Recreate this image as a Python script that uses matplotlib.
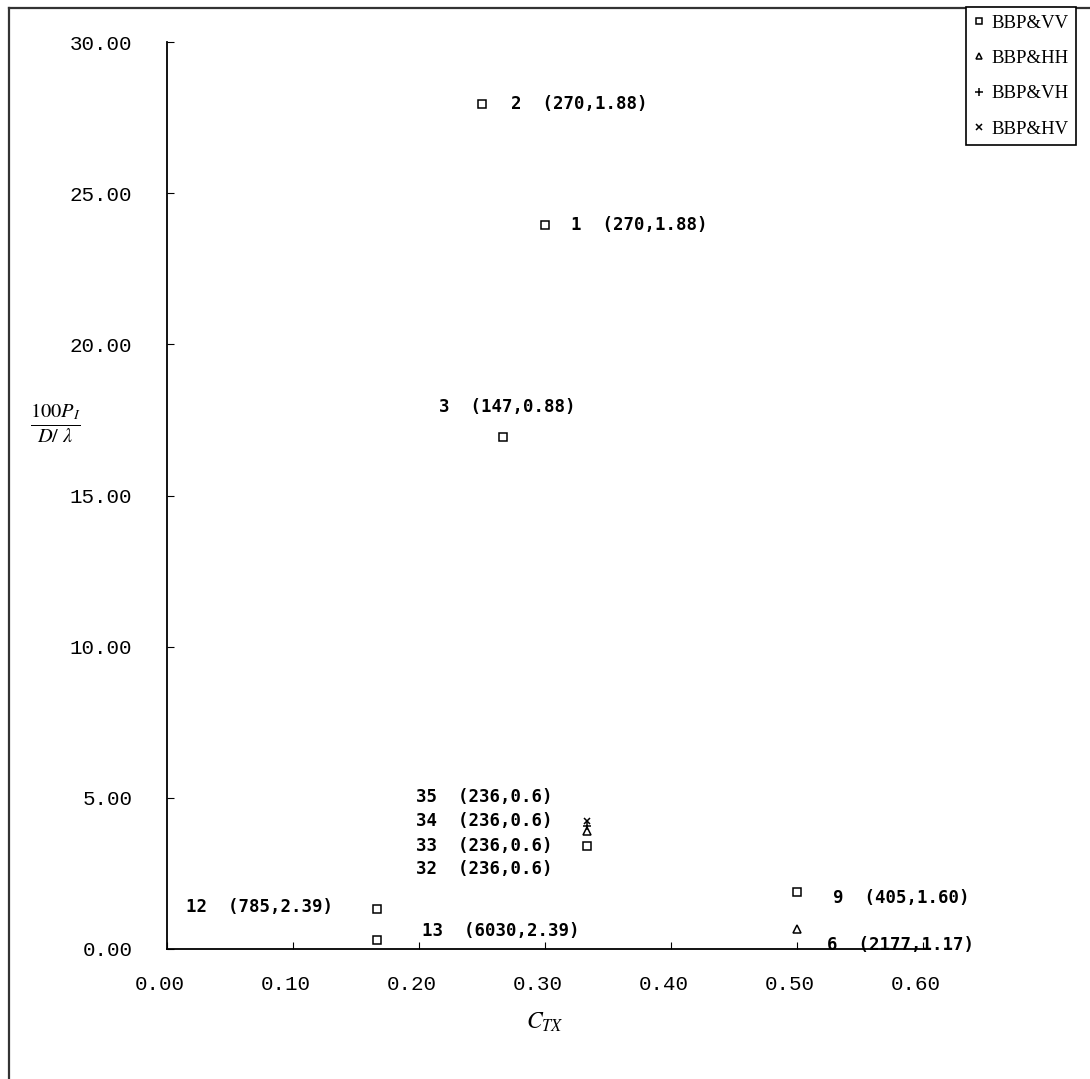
import matplotlib.pyplot as plt
from matplotlib.lines import Line2D
from matplotlib.transforms import ScaledTranslation

# данные: C_TX и 100P_I/(D/lambda)
vv_x = [0.30, 0.25, 0.267, 0.333, 0.50, 0.167, 0.167]
vv_y = [23.95, 27.95, 16.95, 3.41, 1.89, 1.32, 0.30]
hh_x = [0.333, 0.50]
hh_y = [3.90, 0.66]
vh_x = [0.333]
vh_y = [4.08]
hv_x = [0.333]
hv_y = [4.22]

labels = ['1  (270,1.88)', '2  (270,1.88)', '3  (147,0.88)', '33  (236,0.6)',
          '9  (405,1.60)', '12  (785,2.39)', '13  (6030,2.39)']
block_labels = ['35  (236,0.6)', '34  (236,0.6)', '32  (236,0.6)']
label6 = '6  (2177,1.17)'

xticks = [0.0, 0.1, 0.2, 0.3, 0.4, 0.5, 0.6]
yticks = [0, 5, 10, 15, 20, 25, 30]
series_names = ['BBP&VV', 'BBP&HH', 'BBP&VH', 'BBP&HV']

fig = plt.figure(figsize=(10.9, 10.79), dpi=100)
ax = fig.add_axes([167/1090, 130/1079, (923-167)/1090, (949-42)/1079])

mk = dict(color='black', linestyle='none', mfc='none', mew=1.1)
ax.plot(vv_x, vv_y, marker='s', ms=6, **mk)
ax.plot(hh_x, hh_y, marker='^', ms=6, **mk)
ax.plot(vh_x, vh_y, marker='+', ms=6, **mk)
ax.plot(hv_x, hv_y, marker='x', ms=5, **mk)

ax.set_xlim(0, 0.6)
ax.set_ylim(0, 30)
ax.set_xticks(xticks)
ax.set_yticks(yticks)
ax.set_xticklabels([f'{v:.2f}' for v in xticks], family='Liberation Mono', fontsize=15)
ax.set_yticklabels([f'{v:.2f}' for v in yticks], family='Liberation Mono', fontsize=15)
ax.tick_params(axis='x', direction='in', length=5, pad=19)
ax.tick_params(axis='y', direction='in', length=5, pad=25)
shift = ScaledTranslation(-7/100, 0, fig.dpi_scale_trans)
for t in ax.get_xticklabels():
    t.set_transform(t.get_transform() + shift)
for s in ['top', 'right']:
    ax.spines[s].set_visible(False)
for s in ['left', 'bottom']:
    ax.spines[s].set_linewidth(1.3)

# подписи точек (смещения в пикселях от маркера)
offsets = [(26, 0), (29, 0), (-64, 30), (-171, 0), (36, -6), (-191, 2), (45, 9)]
tf = dict(family='DejaVu Sans Mono', weight='bold', fontsize=12.5, va='center', ha='left')
for xv, yv, lab, off in zip(vv_x, vv_y, labels, offsets):
    ax.annotate(lab, (xv, yv), xytext=off, textcoords='offset pixels', **tf)
for lab, dy in zip(block_labels, [49, 25, -23]):
    ax.annotate(lab, (vv_x[3], vv_y[3]), xytext=(-171, dy), textcoords='offset pixels', **tf)
ax.annotate(label6, (hh_x[1], hh_y[1]), xytext=(30, -16), textcoords='offset pixels',
            zorder=1, annotation_clip=False, **tf)

# подписи осей
fig.text(55/1090, 1 - 423/1079, r'$\frac{100P_I}{D/\ \lambda}$', fontsize=21,
         ha='center', va='center', math_fontfamily='stix')
fig.text(545/1090, 1 - 1022/1079, r'$C_{TX}$', fontsize=17, ha='center', va='center',
         math_fontfamily='stix')

# легенда
handles = [Line2D([], [], marker=m, ms=s, **mk) for m, s in
           [('s', 5), ('^', 5), ('+', 6), ('x', 5)]]
leg = fig.legend(handles, series_names, loc='upper right',
                 bbox_to_anchor=(1076/1090, 1 - 7/1079),
                 prop={'family': 'Liberation Serif', 'size': 13.5},
                 fancybox=False, edgecolor='black', framealpha=1,
                 handlelength=0.6, handletextpad=0.35, labelspacing=0.97,
                 borderpad=0.4, borderaxespad=0)
leg.get_frame().set_linewidth(1.2)

# рамка рисунка слева и сверху
fig.add_artist(Line2D([9/1090, 9/1090], [0, 1 - 8/1079], color='#333333', lw=1.6))
fig.add_artist(Line2D([9/1090, 1], [1 - 8/1079, 1 - 8/1079], color='#333333', lw=1.6))

fig.savefig('out.png', dpi=100)
